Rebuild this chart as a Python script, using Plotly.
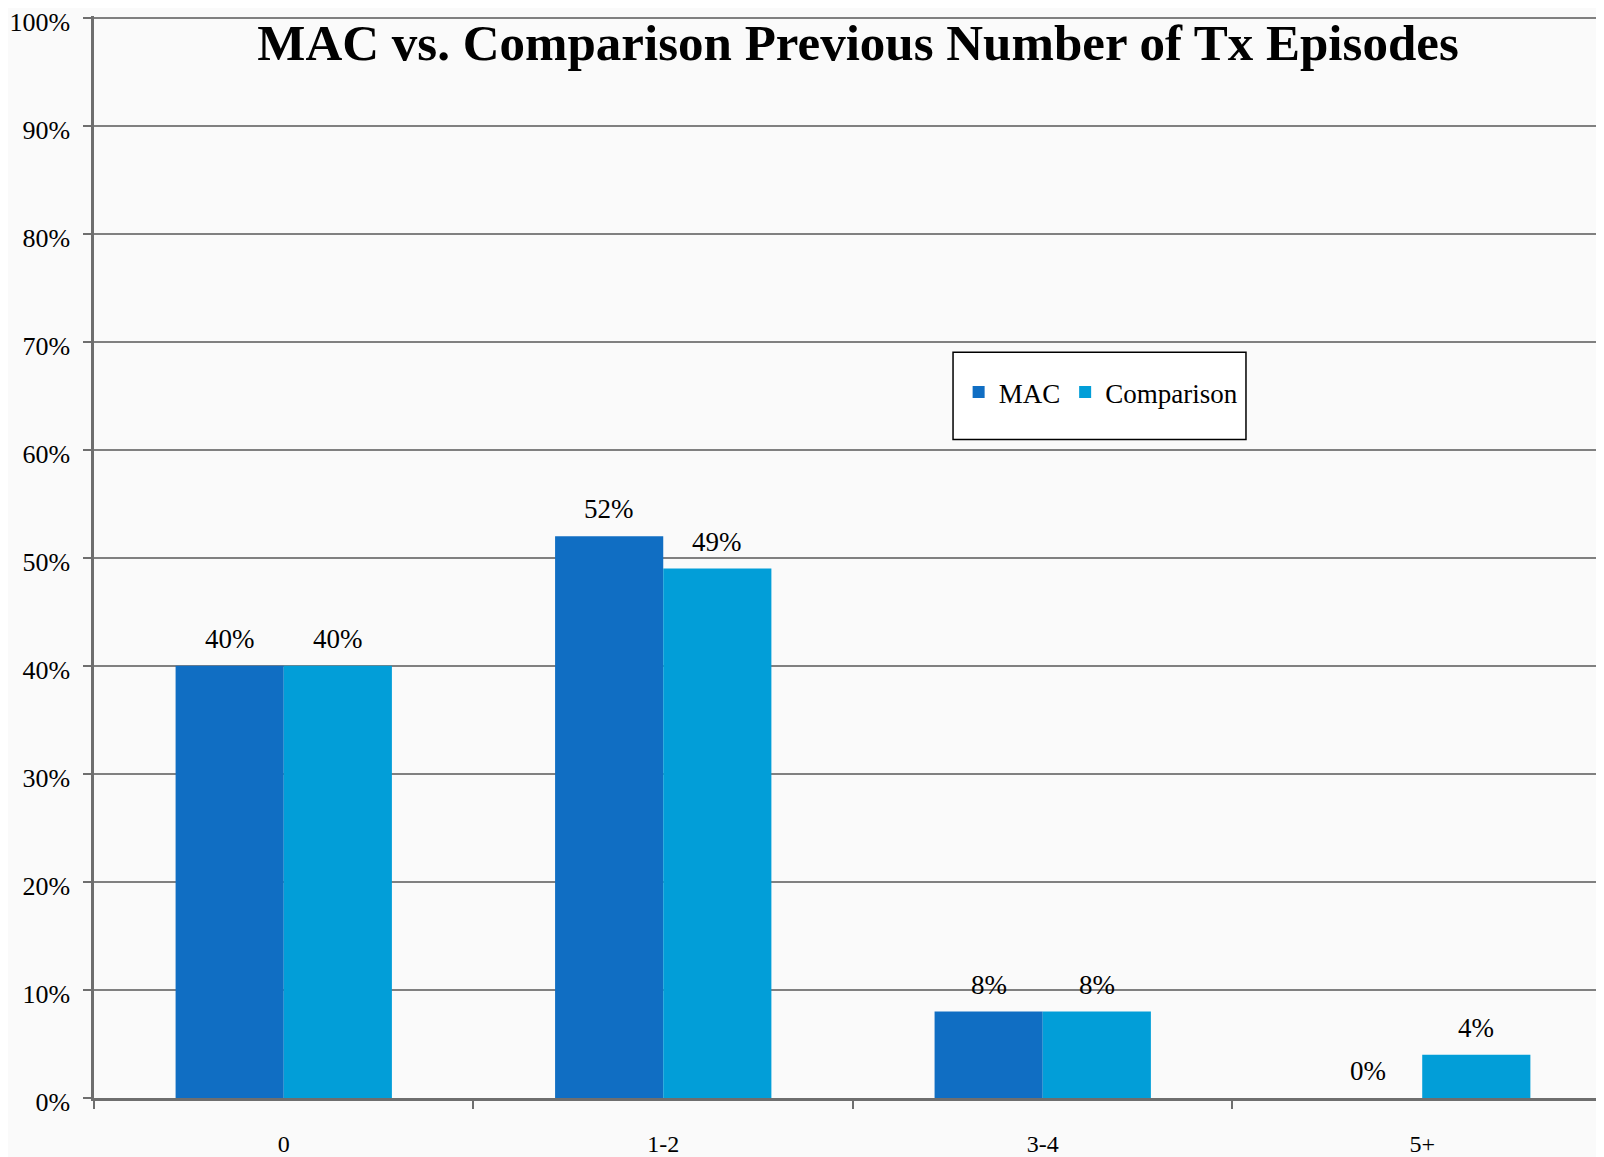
import plotly.graph_objects as go

# data
categories = ["0", "1-2", "3-4", "5+"]
mac = [0.40, 0.52, 0.08, 0.00]
comparison = [0.40, 0.49, 0.08, 0.04]
y_ticks = [i / 10 for i in range(11)]
y_labels = [f"{i * 10}%" for i in range(11)]

_MAC = "#106EC3"
_COMP = "#029ED8"
_GRID = "#808080"
_AXIS = "#6E6E6E"
_FONT = "Liberation Serif, Times New Roman, serif"

fig = go.Figure()
for name, vals, col in [("MAC", mac, _MAC), ("Comparison", comparison, _COMP)]:
    fig.add_trace(go.Bar(
        name=name, x=categories, y=vals,
        marker=dict(color=col, line=dict(width=0)),
    ))

# value labels above each bar
for vals, shift in [(mac, -54), (comparison, 54)]:
    for cat, v in zip(categories, vals):
        fig.add_annotation(x=cat, y=v, text=f"{round(v * 100)}%", showarrow=False,
                           xshift=shift, yshift=27, font=dict(size=27, color="black"))

# legend frame
fig.add_shape(type="rect", xref="paper", yref="paper",
              x0=0.5689, x1=0.7629, y0=0.6087, y1=0.6892,
              line=dict(color="black", width=1.5), fillcolor="white", layer="above")

fig.update_layout(
    width=1596, height=1149,
    paper_bgcolor="#FAFAFA", plot_bgcolor="#FAFAFA",
    font=dict(family=_FONT, color="black", size=24),
    margin=dict(l=86, r=0, t=8, b=59, autoexpand=False),
    barmode="group", bargap=0.43, bargroupgap=0,
    title=dict(text="<b>MAC vs. Comparison Previous Number of Tx Episodes</b>",
               font=dict(size=51, color="black", family=_FONT), automargin=False,
               x=0.5326, xanchor="center", y=0.970, yanchor="middle"),
    legend=dict(orientation="h", x=0.5726, xanchor="left", y=0.652, yanchor="middle",
                bgcolor="rgba(0,0,0,0)", borderwidth=0, itemwidth=30,
                font=dict(size=27), traceorder="normal"),
    xaxis=dict(range=[-0.5, 3.479], tickson="boundaries", ticks="outside",
               ticklen=8, tickwidth=2, tickcolor=_AXIS, showline=True,
               linecolor=_AXIS, linewidth=2.5, showgrid=False, automargin=False,
               ticklabelstandoff=22, tickfont=dict(size=24)),
    yaxis=dict(range=[0, 1.0015], tickvals=y_ticks, ticktext=y_labels, ticks="outside",
               ticklen=8, tickwidth=2, tickcolor=_AXIS, showline=True,
               linecolor=_AXIS, linewidth=2.5, gridcolor=_GRID, gridwidth=1.5,
               zeroline=False, ticklabelstandoff=8, ticklabelshift=4,
               ticklabeloverflow="allow", automargin=False, tickfont=dict(size=26)),
)

fig.write_html("out.html")
